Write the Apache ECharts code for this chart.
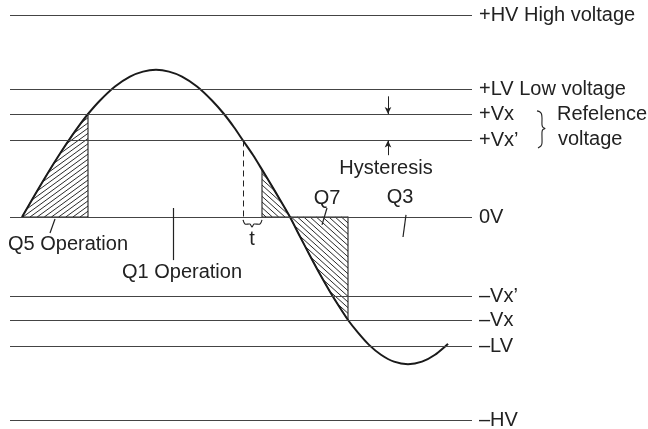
<!DOCTYPE html>
<html>
<head>
<meta charset="utf-8">
<script src="https://cdn.jsdelivr.net/npm/echarts@6/dist/echarts.min.js"></script>
<style>
    html, body { margin: 0; padding: 0; background: #fff; }
    #chart { width: 648px; height: 429px; }
</style>
</head>
<body>
<div id="chart"></div>
<script>
// voltage levels (wave amplitude = 10)
var levelNames = ['+HV High voltage', '+LV Low voltage', '+Vx', '+Vx’', '0V', '–Vx’', '–Vx', '–LV', '–HV'];
var levelValues = [13.7, 8.7, 7.0, 5.2, 0, -5.4, -7.0, -8.8, -13.8];

// the wave
var waveX = [1.2, 2.2, 3.2, 4.2, 5.2, 6.2, 7.0, 7.8, 9.0, 10.5, 12.0, 13.3, 14.6, 15.9, 17.2, 18.7, 20.2, 21.4, 22.4, 23.3, 24.3, 25.2, 26.1, 27.0, 28.0,
    29.0, 30.0, 31.0, 32.0, 32.9, 33.8, 34.8, 35.9, 37.1, 38.4, 39.8, 41.2, 42.5, 43.8];
var waveY = [0, 1.17, 2.33, 3.45, 4.52, 5.53, 6.29, 7.0, 7.92, 8.87, 9.54, 9.88, 10, 9.88, 9.54, 8.87, 7.92, 7.0, 6.1, 5.2, 4.21, 3.22, 2.21, 1.17, 0,
    -1.33, -2.63, -3.89, -5.08, -6.07, -7.0, -7.86, -8.69, -9.36, -9.83, -10, -9.83, -9.36, -8.62];

// hatched spans of the wave
var hatchFrom = [1.2, 25.2, 28.0];
var hatchTo = [7.8, 28.0, 33.8];

// notes
var noteText = ['Q5 Operation', 'Q1 Operation', 't', 'Q7', 'Q3', 'Hysteresis'];
var noteX = [5.8, 17.2, 24.2, 31.7, 39.0, 37.6];
var noteY = [-1.9, -3.8, -1.56, 1.29, 1.36, 3.33];
var sideText = ['Refelence', 'voltage'];
var sideX = [54.7, 54.8];
var sideY = [7.0, 5.3];

// leader lines [x1, y1, x2, y2]
var leaders = [[4.5, -0.14, 4.0, -1.09], [16.3, 0.61, 16.3, -2.93], [31.7, 0.61, 31.2, -0.54], [39.6, 0.14, 39.3, -1.36]];
// hysteresis arrows
var arrows = [[37.8, 8.2, 37.8, 7.0], [37.8, 4.2, 37.8, 5.2]];
// dashed drop line at +Vx'
var dropX = 23.3;

// brace and t bracket outlines
var braceX = [52.7, 53.0, 53.15, 53.2, 53.2, 53.3, 53.5, 53.3, 53.2, 53.2, 53.1, 52.8];
var braceY = [7.21, 7.14, 7.0, 6.73, 6.26, 6.09, 6.02, 5.95, 5.78, 5.03, 4.83, 4.69];
var bracketX = [23.3, 23.5, 24.0, 24.2, 24.4, 25.0, 25.2];
var bracketY = [-0.2, -0.48, -0.48, -0.68, -0.48, -0.48, -0.2];

var ink = '#222';
var font = 'Liberation Sans, Arial, sans-serif';
var hatchAngle = [36, 138, 138]; // degrees: '/' then '\'
var hatchGap = 4.2;

function pair(a, b, extra) {
    var p = [{ coord: a }, { coord: b }];
    if (extra) p[0].name = extra;
    return p;
}

// hatch lines clipped to a polygon (pixel space)
function hatchLines(poly, angle) {
    var a = angle * Math.PI / 180;
    var dx = Math.cos(a), dy = -Math.sin(a);
    var nx = -dy, ny = dx;
    var cs = poly.map(function (p) { return p[0] * nx + p[1] * ny; });
    var cmin = Math.min.apply(null, cs), cmax = Math.max.apply(null, cs);
    var out = [];
    for (var c = Math.ceil(cmin / hatchGap) * hatchGap; c < cmax; c += hatchGap) {
        var hits = [];
        for (var k = 0; k < poly.length; k++) {
            var p1 = poly[k], p2 = poly[(k + 1) % poly.length];
            var f1 = p1[0] * nx + p1[1] * ny - c, f2 = p2[0] * nx + p2[1] * ny - c;
            if ((f1 < 0) !== (f2 < 0)) {
                var t = f1 / (f1 - f2);
                hits.push([p1[0] + t * (p2[0] - p1[0]), p1[1] + t * (p2[1] - p1[1])]);
            }
        }
        hits.sort(function (u, v) { return (u[0] * dx + u[1] * dy) - (v[0] * dx + v[1] * dy); });
        for (var j = 0; j + 1 < hits.length; j += 2) {
            out.push({
                type: 'line',
                shape: { x1: hits[j][0], y1: hits[j][1], x2: hits[j + 1][0], y2: hits[j + 1][1] },
                style: { stroke: '#2a2a2a', lineWidth: 1 }
            });
        }
    }
    return out;
}

var myChart = echarts.init(document.getElementById('chart'));
var option = {
    backgroundColor: '#fff',
    animation: false,
    grid: { left: 10, right: 0, top: 11, bottom: 6 },
    xAxis: { type: 'value', min: 0, max: 63.8, show: false },
    yAxis: { type: 'value', min: -14, max: 14, show: false },
    series: [
        {
            // level lines with their names
            type: 'line',
            data: [],
            silent: true,
            z: 1,
            markLine: {
                silent: true,
                symbol: 'none',
                animation: false,
                lineStyle: { color: '#444', width: 1.2, type: 'solid' },
                label: { show: true, position: 'end', distance: 7, formatter: '{b}', color: ink, fontSize: 20, fontFamily: font },
                emphasis: { disabled: true },
                data: levelValues.map(function (v, i) {
                    return pair([0, v], [46.2, v], levelNames[i]);
                })
            }
        },
        {
            // leaders, drop line, hysteresis arrows
            type: 'line',
            data: [],
            silent: true,
            z: 2,
            markLine: {
                silent: true,
                symbol: 'none',
                animation: false,
                lineStyle: { type: 'solid' },
                label: { show: false },
                emphasis: { disabled: true },
                data: leaders.map(function (l) {
                    var p = pair([l[0], l[1]], [l[2], l[3]]);
                    p[0].lineStyle = { color: ink, width: 1.2, type: 'solid' };
                    return p;
                }).concat([(function () {
                    var p = pair([dropX, 5.2], [dropX, -0.3]);
                    p[0].lineStyle = { color: ink, width: 1, type: [6, 4] };
                    return p;
                })()]).concat(arrows.map(function (a) {
                    var p = pair([a[0], a[1]], [a[2], a[3]]);
                    p[0].lineStyle = { color: ink, width: 1, type: 'solid' };
                    p[0].symbol = 'none';
                    p[1].symbol = 'arrow';
                    p[1].symbolSize = [5, 7];
                    return p;
                }))
            }
        },
        {
            // hatched areas under the wave
            type: 'custom',
            coordinateSystem: 'cartesian2d',
            clip: false,
            silent: true,
            z: 3,
            data: hatchFrom.map(function (f, i) { return [i]; }),
            renderItem: function (params, api) {
                var i = params.dataIndex;
                var pts = [];
                for (var k = 0; k < waveX.length; k++) {
                    if (waveX[k] >= hatchFrom[i] - 1e-6 && waveX[k] <= hatchTo[i] + 1e-6) {
                        pts.push([waveX[k], waveY[k]]);
                    }
                }
                if (pts[0][1] !== 0) pts.unshift([pts[0][0], 0]);
                if (pts[pts.length - 1][1] !== 0) pts.push([pts[pts.length - 1][0], 0]);
                var poly = pts.map(function (p) { return api.coord(p); });
                return {
                    type: 'group',
                    children: hatchLines(poly, hatchAngle[i]).concat([{
                        type: 'polygon',
                        shape: { points: poly },
                        style: { fill: null, stroke: ink, lineWidth: 1.1 }
                    }])
                };
            }
        },
        {
            // brace and t bracket
            type: 'custom',
            coordinateSystem: 'cartesian2d',
            clip: false,
            silent: true,
            z: 3,
            data: [[0], [1]],
            renderItem: function (params, api) {
                var xs = params.dataIndex === 0 ? braceX : bracketX;
                var ys = params.dataIndex === 0 ? braceY : bracketY;
                return {
                    type: 'polyline',
                    shape: { points: xs.map(function (x, k) { return api.coord([x, ys[k]]); }), smooth: 0.3 },
                    style: { stroke: ink, lineWidth: 1.1, fill: null }
                };
            }
        },
        {
            type: 'line',
            data: waveX.map(function (x, i) { return [x, waveY[i]]; }),
            showSymbol: false,
            smooth: 0.25,
            silent: true,
            z: 4,
            lineStyle: { color: '#1a1a1a', width: 2 }
        },
        {
            type: 'scatter',
            clip: false,
            silent: true,
            symbolSize: 0,
            z: 5,
            itemStyle: { opacity: 1 },
            data: noteText.map(function (t, i) { return [noteX[i], noteY[i], t]; }),
            label: {
                show: true, position: 'inside', color: ink, fontSize: 20, fontFamily: font,
                formatter: function (p) { return p.value[2]; }
            }
        },
        {
            type: 'scatter',
            clip: false,
            silent: true,
            symbolSize: 0,
            z: 5,
            itemStyle: { opacity: 1 },
            data: sideText.map(function (t, i) { return [sideX[i], sideY[i], t]; }),
            label: {
                show: true, position: 'right', distance: 0, color: ink, fontSize: 20, fontFamily: font,
                formatter: function (p) { return p.value[2]; }
            }
        }
    ]
};
myChart.setOption(option);
window.addEventListener('resize', function () {
    myChart.resize();
});
</script>
</body>
</html>
